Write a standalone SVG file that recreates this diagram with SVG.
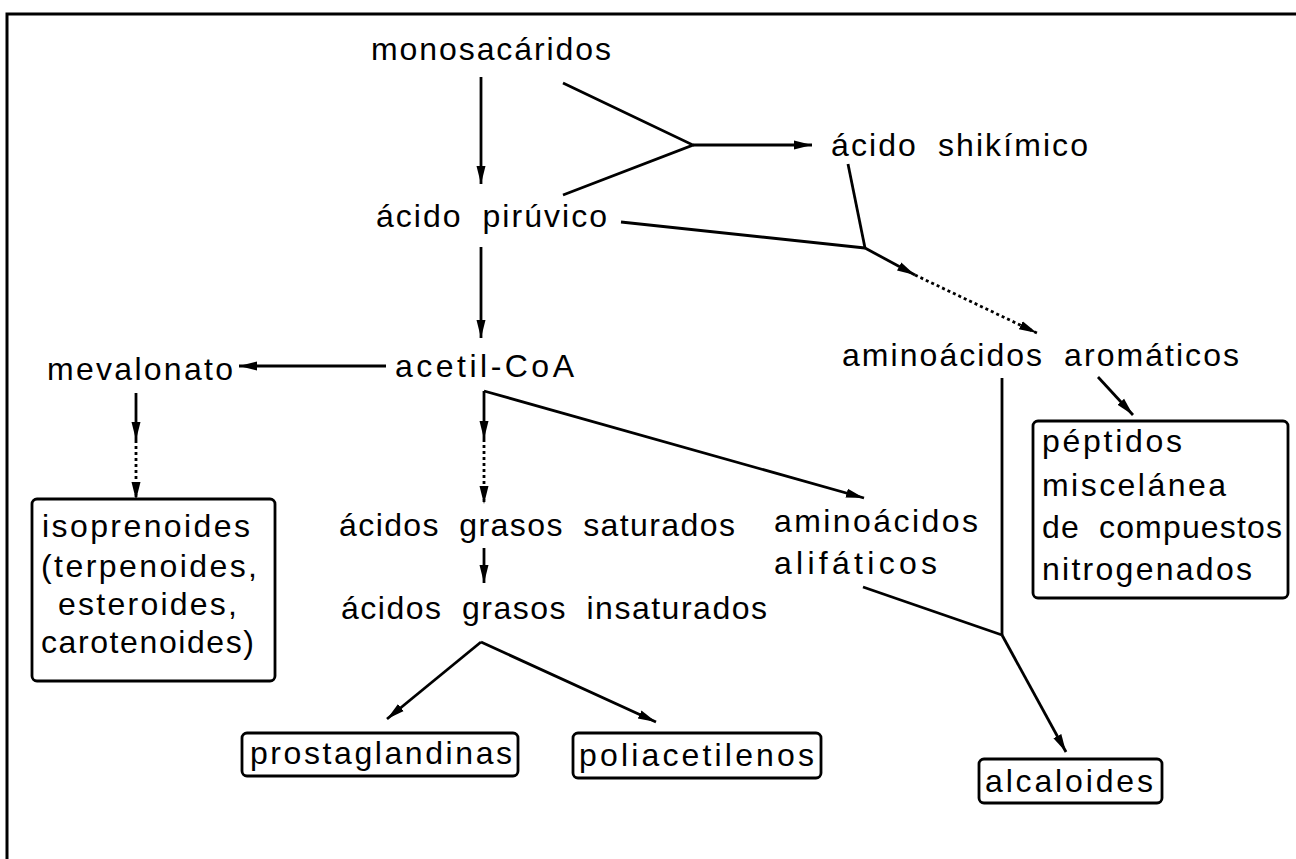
<svg xmlns="http://www.w3.org/2000/svg" width="1296" height="859" viewBox="0 0 1296 859">
<style>
.t{font-family:"Liberation Sans",Arial,Helvetica,sans-serif;font-size:32px;fill:#000;word-spacing:9px}
.c{fill:none;stroke:#000;stroke-width:2.8}
.d{fill:none;stroke:#000;stroke-width:2.8;stroke-dasharray:3 3}
.b{fill:#fff;stroke:#000;stroke-width:2.8}
</style>
<defs>
<marker id="ah" markerWidth="20" markerHeight="12" refX="18" refY="6" orient="auto" markerUnits="userSpaceOnUse">
<path d="M0,1.5 L18,6 L0,10.5 z" fill="#000"/>
</marker>
</defs>
<rect width="1296" height="859" fill="#fff"/>
<polyline points="7,859 7,14 1296,14" fill="none" stroke="#000" stroke-width="3"/>

<g id="connectors">
<line class="c" x1="481" y1="77" x2="481" y2="184" marker-end="url(#ah)"/>
<polyline class="c" points="563,83 693,145 563,195"/>
<line class="c" x1="693" y1="145" x2="812" y2="145" marker-end="url(#ah)"/>
<line class="c" x1="481" y1="247" x2="481" y2="338" marker-end="url(#ah)"/>
<line class="c" x1="386" y1="366" x2="239" y2="366" marker-end="url(#ah)"/>
<line class="c" x1="136" y1="393" x2="136" y2="440" marker-end="url(#ah)"/>
<line class="d" x1="136" y1="440" x2="136" y2="500" marker-end="url(#ah)"/>
<line class="c" x1="484" y1="391" x2="484" y2="439" marker-end="url(#ah)"/>
<line class="d" x1="484" y1="439" x2="484" y2="504" marker-end="url(#ah)"/>
<line class="c" x1="484" y1="391" x2="864" y2="498" marker-end="url(#ah)"/>
<line class="c" x1="484" y1="548" x2="484" y2="583" marker-end="url(#ah)"/>
<line class="c" x1="481" y1="642" x2="387" y2="719" marker-end="url(#ah)"/>
<line class="c" x1="481" y1="642" x2="656" y2="722" marker-end="url(#ah)"/>
<line class="c" x1="848" y1="164" x2="865" y2="248"/>
<line class="c" x1="621" y1="222" x2="865" y2="248"/>
<line class="c" x1="865" y1="248" x2="915" y2="275" marker-end="url(#ah)"/>
<line class="d" x1="915" y1="275" x2="1037" y2="333" marker-end="url(#ah)"/>
<line class="c" x1="1002" y1="378" x2="1002" y2="635"/>
<line class="c" x1="863" y1="587" x2="1002" y2="635"/>
<line class="c" x1="1002" y1="635" x2="1066" y2="752" marker-end="url(#ah)"/>
<line class="c" x1="1098" y1="377" x2="1133" y2="415" marker-end="url(#ah)"/>
</g>

<g id="monosacaridos"><text class="t" x="371" y="60" textLength="240" lengthAdjust="spacing">monosacáridos</text></g>
<g id="acido-piruvico"><text class="t" x="376" y="227" textLength="231" lengthAdjust="spacing">ácido pirúvico</text></g>
<g id="acido-shikimico"><text class="t" x="831" y="156" textLength="257" lengthAdjust="spacing">ácido shikímico</text></g>
<g id="aminoacidos-aromaticos"><text class="t" x="842" y="366" textLength="397" lengthAdjust="spacing">aminoácidos aromáticos</text></g>
<g id="mevalonato"><text class="t" x="47" y="380" textLength="186" lengthAdjust="spacing">mevalonato</text></g>
<g id="acetil-coa"><text class="t" x="395" y="377" textLength="179" lengthAdjust="spacing">acetil-CoA</text></g>
<g id="isoprenoides">
<rect class="b" x="32" y="499" width="243" height="182" rx="5"/>
<text class="t" x="42" y="537" textLength="208" lengthAdjust="spacing">isoprenoides</text>
<text class="t" x="41" y="577" textLength="216" lengthAdjust="spacing">(terpenoides,</text>
<text class="t" x="58" y="615" textLength="179" lengthAdjust="spacing">esteroides,</text>
<text class="t" x="41" y="653" textLength="213" lengthAdjust="spacing">carotenoides)</text>
</g>
<g id="acidos-grasos-saturados"><text class="t" x="339" y="536" textLength="396" lengthAdjust="spacing">ácidos grasos saturados</text></g>
<g id="acidos-grasos-insaturados"><text class="t" x="341" y="619" textLength="426" lengthAdjust="spacing">ácidos grasos insaturados</text></g>
<g id="aminoacidos-alifaticos">
<text class="t" x="774" y="532" textLength="204" lengthAdjust="spacing">aminoácidos</text>
<text class="t" x="774" y="574" textLength="163" lengthAdjust="spacing">alifáticos</text>
</g>
<g id="peptidos">
<rect class="b" x="1033" y="421" width="255" height="177" rx="5"/>
<text class="t" x="1042" y="452" textLength="140" lengthAdjust="spacing">péptidos</text>
<text class="t" x="1042" y="496" textLength="184" lengthAdjust="spacing">miscelánea</text>
<text class="t" x="1042" y="538" textLength="240" lengthAdjust="spacing">de compuestos</text>
<text class="t" x="1042" y="580" textLength="210" lengthAdjust="spacing">nitrogenados</text>
</g>
<g id="prostaglandinas">
<rect class="b" x="242" y="733" width="276" height="43" rx="5"/>
<text class="t" x="250" y="764" textLength="262" lengthAdjust="spacing">prostaglandinas</text>
</g>
<g id="poliacetilenos">
<rect class="b" x="573" y="733" width="248" height="45" rx="5"/>
<text class="t" x="579" y="766" textLength="235" lengthAdjust="spacing">poliacetilenos</text>
</g>
<g id="alcaloides">
<rect class="b" x="979" y="759" width="183" height="44" rx="5"/>
<text class="t" x="985" y="792" textLength="168" lengthAdjust="spacing">alcaloides</text>
</g>
</svg>
